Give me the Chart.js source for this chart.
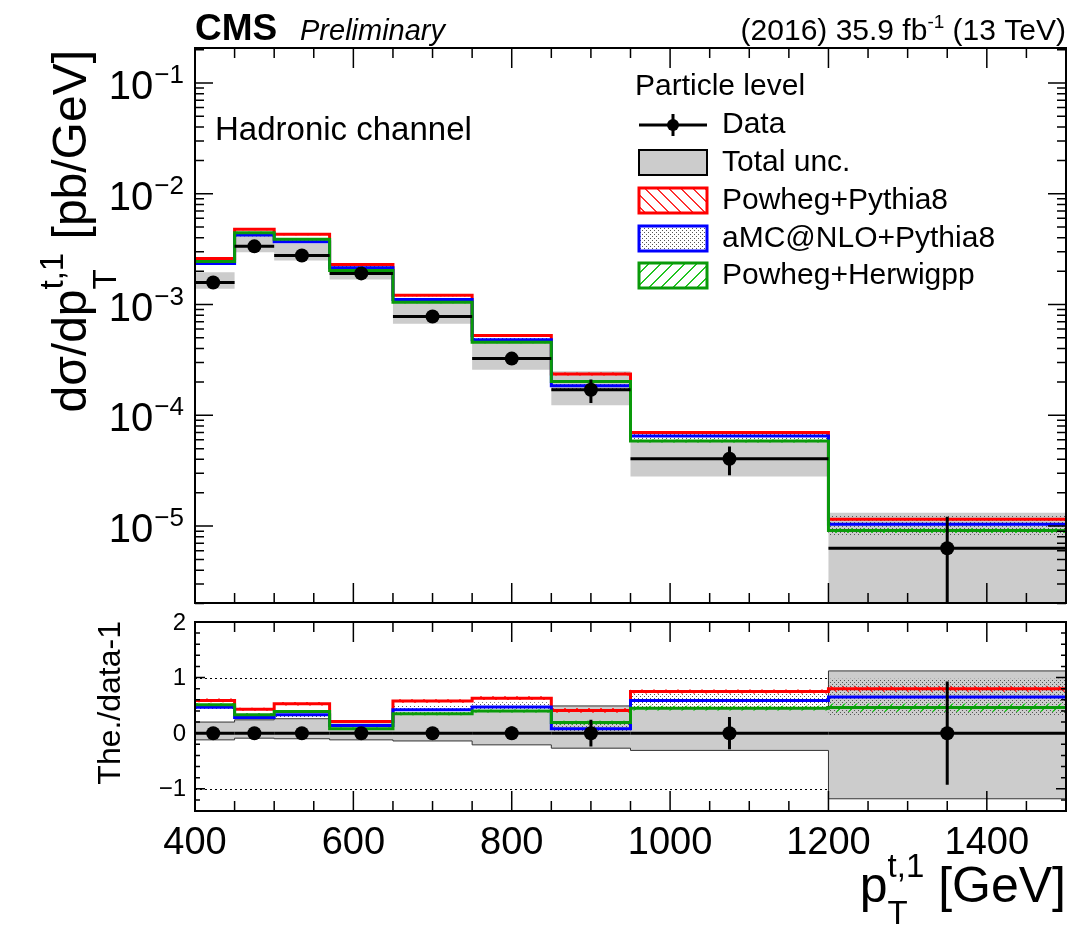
<!DOCTYPE html>
<html>
<head>
<meta charset="utf-8">
<script src="https://cdn.jsdelivr.net/npm/chart.js@4.4.1/dist/chart.umd.min.js"></script>
<style>
  body { margin: 0; background: #fff; }
  #wrap { position: relative; width: 1086px; height: 925px; }
  #topChart { position: absolute; left: 0; top: 0; }
  #ratioChart { position: absolute; left: 0; top: 612px; }
</style>
</head>
<body>
<div id="wrap">
  <canvas id="topChart" width="1086" height="612"></canvas>
  <canvas id="ratioChart" width="1086" height="313"></canvas>
</div>
<script>
// bin edges in GeV and where the data markers sit
const edges = [400, 450, 500, 570, 650, 750, 850, 950, 1200, 1500];
const dataX = [423, 475, 535, 610, 700, 800, 900, 1075, 1350];

// measured cross section [pb/GeV] and relative stat. error
const dataY = [1.58e-3, 3.35e-3, 2.77e-3, 1.91e-3, 7.8e-4, 3.25e-4, 1.70e-4, 4.05e-5, 6.3e-6];
const dataStat = [0.03, 0.02, 0.03, 0.03, 0.05, 0.12, 0.24, 0.29, 0.93];

// total uncertainty band (top panel)
const totHi = [1.96e-3, 4.15e-3, 3.55e-3, 2.25e-3, 1.04e-3, 4.56e-4, 2.50e-4, 5.9e-5, 1.32e-5];
const totLo = [1.39e-3, 2.97e-3, 2.50e-3, 1.68e-3, 6.7e-4, 2.58e-4, 1.23e-4, 2.8e-5, 1e-8];

// predictions (top panel)
const ppy8 = [2.61e-3, 4.77e-3, 4.30e-3, 2.30e-3, 1.21e-3, 5.24e-4, 2.36e-4, 6.98e-5, 1.15e-5];
const amc  = [2.35e-3, 4.24e-3, 3.69e-3, 2.15e-3, 1.11e-3, 4.82e-4, 1.85e-4, 6.5e-5, 1.04e-5];
const phw  = [2.45e-3, 4.45e-3, 3.88e-3, 2.03e-3, 1.05e-3, 4.56e-4, 2.02e-4, 5.86e-5, 9.1e-6];

// relative uncertainty of predictions
const ppy8Unc = [0.02, 0.02, 0.02, 0.02, 0.02, 0.02, 0.03, 0.02, 0.03];
const amcUnc  = [0.03, 0.03, 0.03, 0.04, 0.06, 0.06, 0.08, 0.10, 0.20];
const phwUnc  = [0.02, 0.02, 0.02, 0.02, 0.02, 0.02, 0.03, 0.03, 0.05];

// ratio panel: theory/data - 1
const ratioPpy8 = [0.59, 0.43, 0.53, 0.21, 0.58, 0.63, 0.41, 0.75, 0.80];
const ratioAmc  = [0.465, 0.28, 0.33, 0.14, 0.42, 0.47, 0.08, 0.59, 0.65];
const ratioPhw  = [0.51, 0.33, 0.39, 0.08, 0.35, 0.40, 0.19, 0.45, 0.46];
const ratioTotHi = [0.20, 0.24, 0.26, 0.20, 0.35, 0.40, 0.49, 0.45, 1.12];
const ratioTotLo = [-0.12, -0.09, -0.10, -0.12, -0.14, -0.21, -0.27, -0.31, -1.18];

// axis ticks
const xTicks = [400, 600, 800, 1000, 1200, 1400];
const logExps = [-5, -4, -3, -2, -1];
const ratioTicks = [-1, 0, 1, 2];
const ratioTickLabels = ["\u22121", "0", "1", "2"];

const FONT = '"Liberation Sans", Arial, Helvetica, sans-serif';
const RED = "#ff0000", BLUE = "#0000ff", GREEN = "#0a9a0a", GREY = "#cccccc";

function steps(vals) {
  const pts = vals.map((v, i) => ({ x: edges[i], y: v }));
  pts.push({ x: edges[edges.length - 1], y: vals[vals.length - 1] });
  return pts;
}

// diagonal hatching tile, drawn pixel by pixel so the colour stays clean
function hatch(color, dir) {
  const n = 12;
  const c = document.createElement("canvas");
  c.width = c.height = n;
  const g = c.getContext("2d");
  g.fillStyle = color;
  for (let i = 0; i < n; i++) {
    const y = dir > 0 ? n - 1 - i : i;
    g.fillRect(i, y, 1, 1);
    g.fillRect((i + 1) % n, y, 1, 1);
  }
  return g.createPattern(c, "repeat");
}

function dots() {
  const c = document.createElement("canvas");
  c.width = c.height = 4;
  const g = c.getContext("2d");
  g.fillStyle = "#555";
  g.fillRect(0, 0, 1, 1);
  g.fillRect(2, 2, 1, 1);
  return g.createPattern(c, "repeat");
}

const redHatch = hatch("#ff3030", -1);
const greenHatch = hatch("#22c422", 1);
const blueDots = dots();

function lineDs(vals, color, order) {
  return { data: steps(vals), stepped: true, borderColor: color, borderWidth: 3,
           pointRadius: 0, fill: false, order: order };
}

function bandDs(lo, hi, bg, edge, order) {
  return [
    { data: steps(lo), stepped: true, borderColor: edge || "rgba(0,0,0,0)", borderWidth: 1,
      pointRadius: 0, fill: false, order: order },
    { data: steps(hi), stepped: true, borderColor: edge || "rgba(0,0,0,0)", borderWidth: 1,
      pointRadius: 0, fill: "-1", backgroundColor: bg, order: order }
  ];
}

// rich text: runs of text, some stacked as sub/superscript
function runs(ctx, parts, x, y, draw) {
  let cx = x;
  for (const p of parts) {
    const items = p.stack || [p];
    let w = 0;
    for (const it of items) {
      ctx.font = it.font;
      const m = ctx.measureText(it.text).width;
      if (draw) ctx.fillText(it.text, cx, y + (it.dy || 0));
      w = Math.max(w, m);
    }
    cx += w;
  }
  return cx - x;
}

function drawTicks(chart, xMaj, xMin, yMaj, yMin, xl, yl) {
  const { ctx, chartArea: a, scales } = chart;
  ctx.save();
  ctx.strokeStyle = "#000";
  ctx.lineWidth = 1.5;
  ctx.beginPath();
  const xs = [[xMaj, xl[0]], [xMin, xl[1]]];
  for (const [list, len] of xs) {
    for (const v of list) {
      const px = scales.x.getPixelForValue(v);
      ctx.moveTo(px, a.bottom); ctx.lineTo(px, a.bottom - len);
      ctx.moveTo(px, a.top); ctx.lineTo(px, a.top + len);
    }
  }
  const ys = [[yMaj, yl[0]], [yMin, yl[1]]];
  for (const [list, len] of ys) {
    for (const v of list) {
      const py = scales.y.getPixelForValue(v);
      if (py < a.top - 0.5 || py > a.bottom + 0.5) continue;
      ctx.moveTo(a.left, py); ctx.lineTo(a.left + len, py);
      ctx.moveTo(a.right, py); ctx.lineTo(a.right - len, py);
    }
  }
  ctx.stroke();
  ctx.lineWidth = 2;
  ctx.strokeRect(a.left, a.top, a.right - a.left, a.bottom - a.top);
  ctx.restore();
}

function drawData(chart, ys, lows, highs) {
  const { ctx, chartArea: a, scales } = chart;
  ctx.save();
  ctx.beginPath();
  ctx.rect(a.left, a.top, a.right - a.left, a.bottom - a.top);
  ctx.clip();
  ctx.strokeStyle = "#000";
  ctx.fillStyle = "#000";
  ctx.lineWidth = 3;
  for (let i = 0; i < ys.length; i++) {
    const py = scales.y.getPixelForValue(ys[i]);
    const px = scales.x.getPixelForValue(dataX[i]);
    ctx.beginPath();
    ctx.moveTo(scales.x.getPixelForValue(edges[i]), py);
    ctx.lineTo(scales.x.getPixelForValue(edges[i + 1]), py);
    ctx.moveTo(px, scales.y.getPixelForValue(highs[i]));
    ctx.lineTo(px, lows[i] > 0 || scales.y.type !== "logarithmic"
      ? scales.y.getPixelForValue(lows[i]) : a.bottom + 5);
    ctx.stroke();
    ctx.beginPath();
    ctx.arc(px, py, 7, 0, Math.PI * 2);
    ctx.fill();
  }
  ctx.restore();
}

const xMinor = [];
for (let v = 450; v < 1500; v += 50) if (v % 200 !== 0) xMinor.push(v);
const logMinor = [];
for (let e = -6; e <= -1; e++) for (let k = 2; k <= 9; k++) logMinor.push(k * Math.pow(10, e));
const ratioMinor = [];
for (let v = -1.4; v < 2; v += 0.2) ratioMinor.push(Math.round(v * 10) / 10);

// ---------- top panel ----------
const topDecor = {
  id: "topDecor",
  afterDraw(chart) {
    const { ctx, scales } = chart;
    drawData(chart, dataY, dataY.map((v, i) => v * (1 - dataStat[i])),
      dataY.map((v, i) => v * (1 + dataStat[i])));
    drawTicks(chart, xTicks, xMinor, logExps.map(e => Math.pow(10, e)), logMinor, [20, 10], [18, 9]);

    ctx.save();
    ctx.fillStyle = "#000";
    ctx.textAlign = "left";
    ctx.textBaseline = "alphabetic";
    // header
    ctx.font = "bold 37px " + FONT;
    ctx.fillText("CMS", 195, 40);
    ctx.font = "italic 29px " + FONT;
    ctx.fillText("Preliminary", 300, 40);
    const lumi = [
      { text: "(2016) 35.9 fb", font: "30px " + FONT },
      { text: "-1", font: "19px " + FONT, dy: -12 },
      { text: " (13 TeV)", font: "30px " + FONT }
    ];
    const lw = runs(ctx, lumi, 0, 0, false);
    runs(ctx, lumi, 1066 - lw, 40, true);

    // y tick labels 10^k
    for (const e of logExps) {
      const py = scales.y.getPixelForValue(Math.pow(10, e));
      ctx.textAlign = "right";
      ctx.textBaseline = "middle";
      ctx.font = "26px " + FONT;
      const ex = "\u2212" + Math.abs(e);
      const we = ctx.measureText(ex).width;
      ctx.fillText(ex, 184, py - 7);
      ctx.font = "40px " + FONT;
      ctx.fillText("10", 184 - we - 1, py + 5);
    }

    // y title
    ctx.textAlign = "left";
    ctx.textBaseline = "alphabetic";
    const yt = [
      { text: "d\u03c3/dp", font: "48px " + FONT },
      { stack: [{ text: "T", font: "33px " + FONT, dy: 30 }, { text: "t,1", font: "33px " + FONT, dy: -23 }] },
      { text: " [pb/GeV]", font: "48px " + FONT }
    ];
    const yw = runs(ctx, yt, 0, 0, false);
    ctx.save();
    ctx.translate(86, 50 + yw);
    ctx.rotate(-Math.PI / 2);
    runs(ctx, yt, 0, 0, true);
    ctx.restore();

    // channel label
    ctx.font = "33px " + FONT;
    ctx.fillText("Hadronic channel", 215, 140);

    // legend
    ctx.font = "30px " + FONT;
    ctx.textBaseline = "middle";
    ctx.fillText("Particle level", 635, 87);
    const lx = 639, lw2 = 68, tx = 722;
    ctx.strokeStyle = "#000";
    ctx.lineWidth = 3;
    ctx.beginPath();
    ctx.moveTo(lx, 125); ctx.lineTo(lx + lw2, 125);
    ctx.moveTo(lx + lw2 / 2, 114); ctx.lineTo(lx + lw2 / 2, 136);
    ctx.stroke();
    ctx.beginPath();
    ctx.arc(lx + lw2 / 2, 125, 6, 0, Math.PI * 2);
    ctx.fill();
    ctx.fillText("Data", tx, 125);

    const boxes = [
      { y: 150, fill: GREY, edge: "#000", w: 2, label: "Total unc." },
      { y: 188, fill: redHatch, edge: RED, w: 3, label: "Powheg+Pythia8" },
      { y: 226, fill: blueDots, edge: BLUE, w: 3, label: "aMC@NLO+Pythia8" },
      { y: 263, fill: greenHatch, edge: GREEN, w: 3, label: "Powheg+Herwigpp" }
    ];
    for (const b of boxes) {
      ctx.fillStyle = b.fill;
      ctx.fillRect(lx, b.y, lw2, 25);
      ctx.strokeStyle = b.edge;
      ctx.lineWidth = b.w;
      ctx.strokeRect(lx, b.y, lw2, 25);
      ctx.fillStyle = "#000";
      ctx.fillText(b.label, tx, b.y + 12.5);
    }
    ctx.restore();
  }
};

const topSets = [].concat(
  lineDs(phw, GREEN, 1),
  lineDs(amc, BLUE, 2),
  lineDs(ppy8, RED, 3),
  bandDs(phw.map((v, i) => v * (1 - phwUnc[i])), phw.map((v, i) => v * (1 + phwUnc[i])), greenHatch, null, 4),
  bandDs(amc.map((v, i) => v * (1 - amcUnc[i])), amc.map((v, i) => v * (1 + amcUnc[i])), blueDots, null, 5),
  bandDs(ppy8.map((v, i) => v * (1 - ppy8Unc[i])), ppy8.map((v, i) => v * (1 + ppy8Unc[i])), redHatch, null, 6),
  bandDs(totLo, totHi, GREY, null, 10)
);

new Chart(document.getElementById("topChart"), {
  type: "line",
  data: { datasets: topSets },
  options: {
    responsive: false,
    animation: false,
    events: [],
    layout: { padding: { left: 195, right: 20, top: 48, bottom: 9 } },
    plugins: { legend: { display: false }, tooltip: { enabled: false } },
    scales: {
      x: { type: "linear", min: 400, max: 1500, bounds: "data", display: false },
      y: { type: "logarithmic", min: 2.02e-6, max: 0.207, bounds: "data", display: false }
    }
  },
  plugins: [topDecor]
});

// ---------- ratio panel ----------
const ratioDecor = {
  id: "ratioDecor",
  beforeDatasetsDraw(chart) {
    const { ctx, chartArea: a, scales } = chart;
    ctx.save();
    ctx.strokeStyle = "#000";
    ctx.lineWidth = 1;
    ctx.setLineDash([2, 3]);
    ctx.beginPath();
    for (const v of [1, -1]) {
      const py = Math.round(scales.y.getPixelForValue(v)) + 0.5;
      ctx.moveTo(a.left, py); ctx.lineTo(a.right, py);
    }
    ctx.stroke();
    ctx.restore();
  },
  afterDraw(chart) {
    const { ctx, scales } = chart;
    drawData(chart, dataY.map(() => 0), dataStat.map(s => -s), dataStat);
    drawTicks(chart, xTicks, xMinor, ratioTicks, ratioMinor, [20, 10], [10, 5]);

    ctx.save();
    ctx.fillStyle = "#000";
    ctx.textBaseline = "middle";
    ctx.textAlign = "right";
    ctx.font = "24px " + FONT;
    ratioTicks.forEach((v, i) => {
      ctx.fillText(ratioTickLabels[i], 186, scales.y.getPixelForValue(v) + 1);
    });
    ctx.textAlign = "center";
    ctx.font = "38px " + FONT;
    for (const v of xTicks) ctx.fillText(String(v), scales.x.getPixelForValue(v), 232);

    ctx.textAlign = "left";
    ctx.textBaseline = "alphabetic";
    ctx.font = "32px " + FONT;
    const rt = "The./data-1";
    const rw = ctx.measureText(rt).width;
    ctx.save();
    ctx.translate(120, 9 + rw);
    ctx.rotate(-Math.PI / 2);
    ctx.fillText(rt, 0, 0);
    ctx.restore();

    const xt = [
      { text: "p", font: "50px " + FONT },
      { stack: [{ text: "T", font: "33px " + FONT, dy: 22 }, { text: "t,1", font: "33px " + FONT, dy: -25 }] },
      { text: " [GeV]", font: "50px " + FONT }
    ];
    const xw = runs(ctx, xt, 0, 0, false);
    runs(ctx, xt, 1066 - xw, 290, true);
    ctx.restore();
  }
};

function rband(r, u) {
  return [r.map((v, i) => v - (1 + v) * u[i]), r.map((v, i) => v + (1 + v) * u[i])];
}
const [phwLo, phwHi] = rband(ratioPhw, phwUnc);
const [amcLo, amcHi] = rband(ratioAmc, amcUnc);
const [ppyLo, ppyHi] = rband(ratioPpy8, ppy8Unc);

const ratioSets = [].concat(
  lineDs(ratioPhw, GREEN, 1),
  lineDs(ratioAmc, BLUE, 2),
  lineDs(ratioPpy8, RED, 3),
  bandDs(phwLo, phwHi, greenHatch, null, 4),
  bandDs(amcLo, amcHi, blueDots, null, 5),
  bandDs(ppyLo, ppyHi, redHatch, null, 6),
  bandDs(ratioTotLo, ratioTotHi, GREY, "#333", 10)
);

new Chart(document.getElementById("ratioChart"), {
  type: "line",
  data: { datasets: ratioSets },
  options: {
    responsive: false,
    animation: false,
    events: [],
    layout: { padding: { left: 195, right: 20, top: 10, bottom: 114 } },
    plugins: { legend: { display: false }, tooltip: { enabled: false } },
    scales: {
      x: { type: "linear", min: 400, max: 1500, bounds: "data", display: false },
      y: { type: "linear", min: -1.4, max: 2, bounds: "data", display: false }
    }
  },
  plugins: [ratioDecor]
});
</script>
</body>
</html>
